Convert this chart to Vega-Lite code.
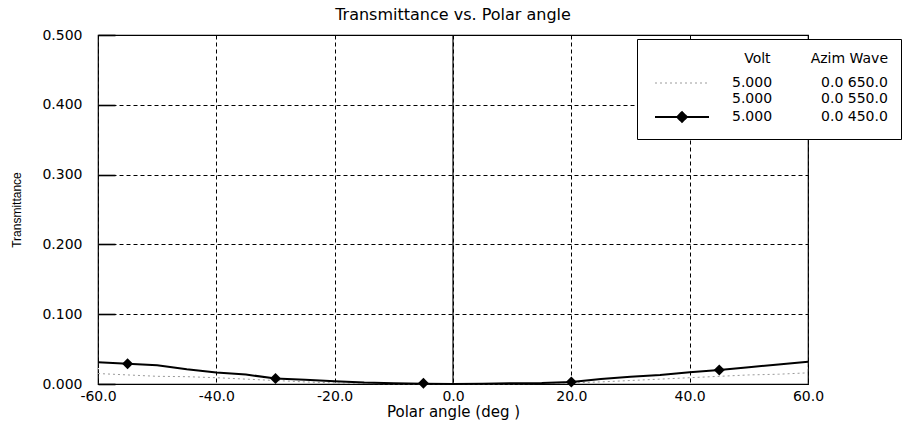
{
  "$schema": "https://vega.github.io/schema/vega-lite/v6.json",
  "autosize": "none",
  "width": 710,
  "height": 349,
  "padding": {"left": 98, "top": 35, "right": 94, "bottom": 52},
  "background": "white",
  "title": {"text": "Transmittance vs. Polar angle", "font": "DejaVu Sans", "fontSize": 16, "fontWeight": "normal", "color": "black", "offset": 5, "anchor": "middle"},
  "config": {
    "font": "DejaVu Sans",
    "view": {"stroke": "black", "strokeWidth": 1.2},
    "axis": {"labelColor": "black", "titleColor": "black", "labelFont": "DejaVu Sans", "titleFont": "DejaVu Sans", "titleFontWeight": "normal", "gridColor": "black", "gridOpacity": 1, "gridDash": [4, 3], "gridWidth": 1, "domain": false}
  },
  "datasets": {
    "curves": [
      {"angle": -60, "T": 0.031, "wave": "450"}, {"angle": -55, "T": 0.029, "wave": "450"}, {"angle": -50, "T": 0.027, "wave": "450"}, {"angle": -45, "T": 0.021, "wave": "450"}, {"angle": -40, "T": 0.0165, "wave": "450"}, {"angle": -35, "T": 0.0135, "wave": "450"}, {"angle": -30, "T": 0.008, "wave": "450"}, {"angle": -25, "T": 0.006, "wave": "450"}, {"angle": -20, "T": 0.004, "wave": "450"}, {"angle": -15, "T": 0.002, "wave": "450"}, {"angle": -10, "T": 0.001, "wave": "450"}, {"angle": -5, "T": 0.0005, "wave": "450"}, {"angle": 0, "T": 0.0, "wave": "450"}, {"angle": 5, "T": 0.0003, "wave": "450"}, {"angle": 10, "T": 0.001, "wave": "450"}, {"angle": 15, "T": 0.0015, "wave": "450"}, {"angle": 20, "T": 0.003, "wave": "450"}, {"angle": 25, "T": 0.007, "wave": "450"}, {"angle": 30, "T": 0.0105, "wave": "450"}, {"angle": 35, "T": 0.013, "wave": "450"}, {"angle": 40, "T": 0.017, "wave": "450"}, {"angle": 45, "T": 0.020, "wave": "450"}, {"angle": 50, "T": 0.024, "wave": "450"}, {"angle": 55, "T": 0.028, "wave": "450"}, {"angle": 60, "T": 0.032, "wave": "450"},
      {"angle": -60, "T": 0.022, "wave": "550"}, {"angle": -50, "T": 0.019, "wave": "550"}, {"angle": -40, "T": 0.013, "wave": "550"}, {"angle": -30, "T": 0.007, "wave": "550"}, {"angle": -20, "T": 0.003, "wave": "550"}, {"angle": -10, "T": 0.0008, "wave": "550"}, {"angle": 0, "T": 0.0, "wave": "550"}, {"angle": 10, "T": 0.0008, "wave": "550"}, {"angle": 20, "T": 0.003, "wave": "550"}, {"angle": 30, "T": 0.007, "wave": "550"}, {"angle": 40, "T": 0.013, "wave": "550"}, {"angle": 50, "T": 0.019, "wave": "550"}, {"angle": 60, "T": 0.023, "wave": "550"},
      {"angle": -60, "T": 0.015, "wave": "650"}, {"angle": -55, "T": 0.013, "wave": "650"}, {"angle": -50, "T": 0.011, "wave": "650"}, {"angle": -45, "T": 0.0105, "wave": "650"}, {"angle": -40, "T": 0.009, "wave": "650"}, {"angle": -35, "T": 0.007, "wave": "650"}, {"angle": -30, "T": 0.005, "wave": "650"}, {"angle": -25, "T": 0.003, "wave": "650"}, {"angle": -20, "T": 0.0015, "wave": "650"}, {"angle": -15, "T": 0.0007, "wave": "650"}, {"angle": -10, "T": 0.0002, "wave": "650"}, {"angle": -5, "T": 0.0, "wave": "650"}, {"angle": 0, "T": 0.0, "wave": "650"}, {"angle": 5, "T": 0.0, "wave": "650"}, {"angle": 10, "T": 0.0002, "wave": "650"}, {"angle": 15, "T": 0.0007, "wave": "650"}, {"angle": 20, "T": 0.0015, "wave": "650"}, {"angle": 25, "T": 0.003, "wave": "650"}, {"angle": 30, "T": 0.005, "wave": "650"}, {"angle": 35, "T": 0.007, "wave": "650"}, {"angle": 40, "T": 0.009, "wave": "650"}, {"angle": 45, "T": 0.011, "wave": "650"}, {"angle": 50, "T": 0.013, "wave": "650"}, {"angle": 55, "T": 0.014, "wave": "650"}, {"angle": 60, "T": 0.016, "wave": "650"}
    ],
    "markers": [
      {"angle": -55, "T": 0.029}, {"angle": -30, "T": 0.008}, {"angle": -5, "T": 0.0012}, {"angle": 20, "T": 0.003}, {"angle": 45, "T": 0.020}
    ],
    "zero": [{"angle": 0}]
  },
  "layer": [
    {
      "data": {"name": "zero"},
      "mark": {"type": "rule", "color": "black", "strokeWidth": 1.2},
      "encoding": {"x": {"field": "angle", "type": "quantitative"}}
    },
    {
      "data": {"name": "curves"},
      "transform": [{"filter": "datum.wave !== '450'"}],
      "mark": {"type": "line", "interpolate": "linear", "strokeWidth": 1, "strokeDash": [2, 3]},
      "encoding": {
        "x": {"field": "angle", "type": "quantitative", "scale": {"domain": [-60, 60], "nice": false},
          "axis": {"values": [-60, -40, -20, 0, 20, 40, 60], "format": ".1f", "labelExpr": "replace(datum.label, '\u2212', '-')", "labelFlush": false, "grid": true, "ticks": false, "labelFontSize": 14, "labelPadding": 5, "title": "Polar angle (deg )", "titleFontSize": 15, "titlePadding": 1}},
        "y": {"field": "T", "type": "quantitative", "scale": {"domain": [0, 0.5], "nice": false},
          "axis": {"values": [0, 0.1, 0.2, 0.3, 0.4, 0.5], "format": ".3f", "labelFlush": false, "grid": true, "ticks": true, "tickSize": -17, "tickColor": "black", "tickWidth": 1.6, "labelFontSize": 14, "labelPadding": 33, "title": "Transmittance", "titleFont": "Liberation Sans", "titleFontSize": 12, "titlePadding": 18}},
        "color": {"field": "wave", "type": "nominal",
          "scale": {"domain": ["650", "550", "450"], "range": ["#9a9a9a", "#ffffff", "#000000"]},
          "legend": {
            "orient": "none", "legendX": 539, "legendY": 4,
            "title": "Volt\u2007\u2007\u2007\u2007\u00a0Azim Wave\u2007", "titleAnchor": "end", "titleFont": "DejaVu Sans", "titleFontSize": 14, "titleFontWeight": "normal", "titleColor": "black", "titlePadding": 10,
            "labelExpr": "'5.000\u2007\u2007\u2007\u2007\u2007 0.0 ' + datum.label + '.0\u2007'",
            "labelFont": "DejaVu Sans", "labelFontSize": 14, "labelColor": "black",
            "symbolType": "stroke", "symbolSize": 100, "symbolOffset": 25, "labelOffset": 43, "rowPadding": 2,
            "padding": 13, "fillColor": "white", "strokeColor": "black",
            "encode": {"symbols": {"update": {
              "shape": {"signal": "datum.value === '450' ? 'M-5.4,0L5.4,0M-1,0L0,-1L1,0L0,1Z' : 'M-5.4,0L5.4,0'"},
              "size": {"value": 100},
              "stroke": {"signal": "datum.value === '650' ? '#9a9a9a' : (datum.value === '550' ? 'transparent' : 'black')"},
              "fill": {"signal": "datum.value === '450' ? 'black' : 'transparent'"},
              "strokeDash": {"signal": "datum.value === '650' ? [2, 3] : [1, 0]"},
              "strokeWidth": {"signal": "datum.value === '450' ? 1.8 : 1"},
              "opacity": {"value": 1}
            }}}
          }}
      }
    },
    {
      "data": {"name": "curves"},
      "transform": [{"filter": "datum.wave === '450'"}],
      "mark": {"type": "line", "interpolate": "linear", "strokeWidth": 2},
      "encoding": {
        "x": {"field": "angle", "type": "quantitative"},
        "y": {"field": "T", "type": "quantitative"},
        "color": {"field": "wave", "type": "nominal"}
      }
    },
    {
      "data": {"name": "markers"},
      "mark": {"type": "point", "shape": "diamond", "filled": true, "color": "black", "size": 120, "opacity": 1},
      "encoding": {
        "x": {"field": "angle", "type": "quantitative"},
        "y": {"field": "T", "type": "quantitative"}
      }
    }
  ]
}
